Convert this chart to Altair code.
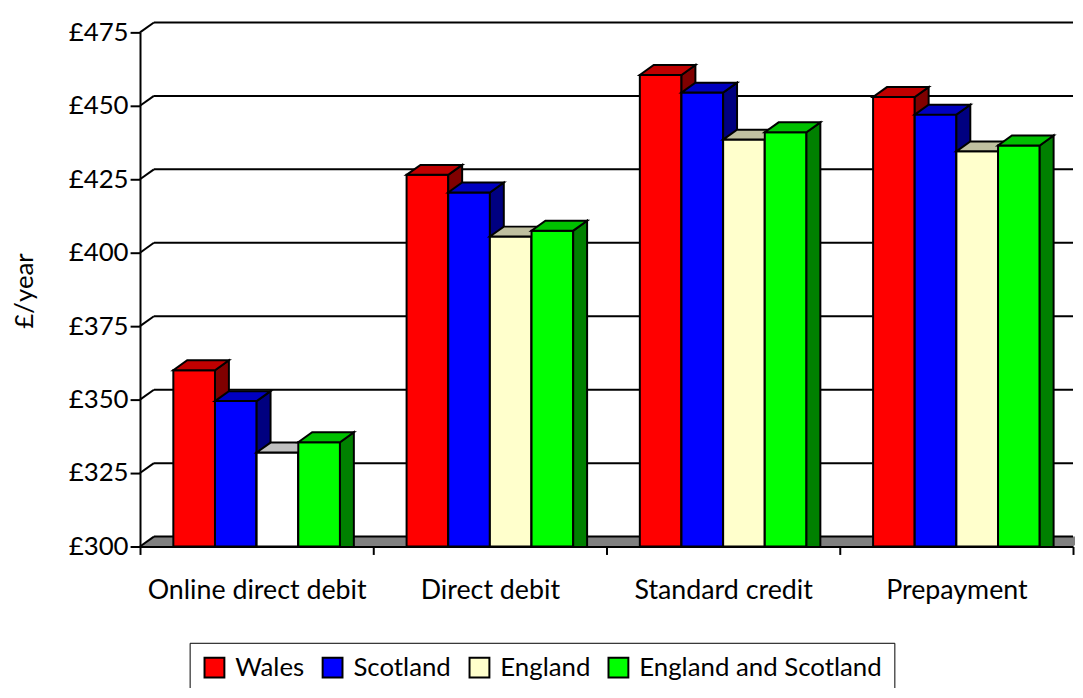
import altair as alt
import pandas as pd

# ---------------- data ----------------
categories = ["Online direct debit", "Direct debit", "Standard credit", "Prepayment"]
series = ["Wales", "Scotland", "England", "England and Scotland"]
wales = [360, 426.5, 460.5, 453]
scotland = [349.5, 420.5, 454.5, 447]
england = [332, 405.5, 438.5, 434.5]
england_scotland = [335.5, 407.5, 441, 436.5]
y_ticks = [300, 325, 350, 375, 400, 425, 450, 475]

# ---------------- style ----------------
front_colors = ["#FF0000", "#0000FF", "#FFFFCC", "#00FF00"]
top_colors = ["#C00000", "#0000C0", "#C0C0A0", "#00C000"]
side_colors = ["#800000", "#000080", "#808066", "#008000"]
FONT = "Lato"
W, H = 940, 518          # plot area
DX, DY = 14, 10          # 3-D depth offset in px
HALF = 21                # half bar width in px

TOP_PATH = f"M{-HALF},0 L{HALF},0 L{HALF+DX},{-DY} L{-HALF+DX},{-DY} Z"
SIDE_PATH = f"M{HALF},0 L{HALF+DX},{-DY} L{HALF+DX},{600-DY} L{HALF},600 Z"
FLOOR_PATH = f"M0,0 L{W},0 L{W+DX},{-DY} L{DX},{-DY} Z"

rows = []
for s, vals in zip(series, [wales, scotland, england, england_scotland]):
    for c, v in zip(categories, vals):
        rows.append({"category": c, "series": s, "value": v})
df = pd.DataFrame(rows)
ticks_df = pd.DataFrame({"tick": y_ticks})

yscale = alt.Scale(domain=[300, 475], zero=False, nice=False)

x_enc = alt.X(
    "category:N", sort=categories,
    scale=alt.Scale(domain=categories, paddingInner=0, paddingOuter=0),
    axis=alt.Axis(title=None, labelAngle=0, labelFont=FONT, labelFontSize=27,
                  labelColor="black", labelPadding=23, tickBand="extent",
                  tickSize=8, tickWidth=2, tickColor="black", labelLimit=400,
                  domainColor="black", domainWidth=2, zindex=1),
)
xoff = alt.XOffset("series:N", scale=alt.Scale(domain=series, paddingInner=0, paddingOuter=0.8))
y_axis = alt.Axis(values=y_ticks, labelExpr="'£' + datum.value", title="£/year",
                  titleFont=FONT, titleFontSize=26, titleFontWeight="normal",
                  titleColor="black", titleX=-116, titleY=260, titleAngle=-90,
                  titleAlign="center", titleBaseline="middle",
                  labelFont=FONT, labelFontSize=26, labelColor="black",
                  labelPadding=2, tickSize=10, tickWidth=2, tickColor="black",
                  domainColor="black", domainWidth=2, grid=False, zindex=1)
y_enc = alt.Y("value:Q", scale=yscale, axis=y_axis)
y_tick_enc = alt.Y("tick:Q", scale=yscale, axis=y_axis)

legend = alt.Legend(
    title=None, orient="none", legendX=50, legendY=615, direction="horizontal",
    columns=4, symbolType="square", symbolSize=400, symbolStrokeColor="black",
    symbolStrokeWidth=2, labelFont=FONT, labelFontSize=26, labelColor="black",
    labelOffset=8, labelLimit=500, columnPadding=14, padding=12,
    strokeColor="black", fillColor="white",
)
fill_enc = alt.Fill("series:N", scale=alt.Scale(domain=series, range=front_colors), legend=legend)

# floor and back wall
floor = alt.Chart(pd.DataFrame({"k": [0]})).mark_point(
    shape=FLOOR_PATH, size=4, filled=True, fill="#808080", opacity=1, strokeWidth=0
).encode(x=alt.value(0), y=alt.value(H))

slants = alt.Chart(ticks_df).mark_rule(color="black", strokeWidth=2, y2Offset=-DY).encode(
    y=y_tick_enc, y2="tick:Q", x=alt.value(0), x2=alt.value(DX))
walls = alt.Chart(ticks_df).mark_rule(color="black", strokeWidth=2, yOffset=-DY).encode(
    y=y_tick_enc, x=alt.value(DX), x2=alt.value(W))

layers = [floor, slants, walls]
for i, s in enumerate(series):
    base = alt.Chart(df).transform_filter(alt.datum.series == s)
    front = base.mark_bar(stroke="black", strokeWidth=2, opacity=1).encode(
        x=x_enc, xOffset=xoff, y=y_enc, y2=alt.datum(300), fill=fill_enc)
    layers.append(front)
    if s == "England":
        white = base.transform_filter(alt.datum.category == categories[0]).mark_bar(
            stroke="black", strokeWidth=2, opacity=1, fill="white").encode(
            x=x_enc, xOffset=xoff, y=y_enc, y2=alt.datum(300))
        layers.append(white)
    side = base.mark_point(shape=SIDE_PATH, size=4, filled=True, opacity=1,
                           stroke="black", strokeWidth=2, clip=True).encode(
        x=x_enc, xOffset=xoff, y=y_enc, fill=alt.value(side_colors[i]))
    if s == "England":
        top_fill = alt.condition(alt.datum.category == categories[0],
                                 alt.value("#C0C0C0"), alt.value(top_colors[i]))
    else:
        top_fill = alt.value(top_colors[i])
    top = base.mark_point(shape=TOP_PATH, size=4, filled=True, opacity=1,
                          stroke="black", strokeWidth=2).encode(
        x=x_enc, xOffset=xoff, y=y_enc, fill=top_fill)
    layers += [side, top]

chart = alt.layer(*layers).properties(
    width=W, height=H,
    autosize=alt.AutoSizeParams(type="none"),
    padding={"left": 133, "top": 22, "right": 2, "bottom": 140},
    background="white",
).configure_view(stroke=None)

chart.save("out.html", embed_options={"renderer": "svg", "actions": False})
